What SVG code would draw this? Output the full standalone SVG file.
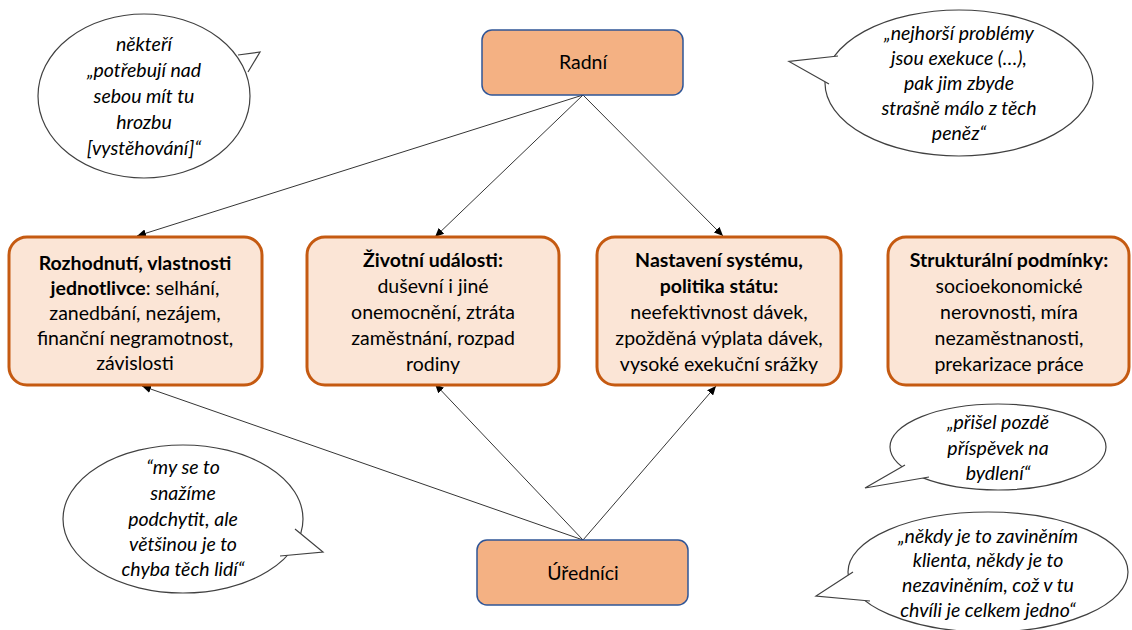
<svg xmlns="http://www.w3.org/2000/svg" width="1132" height="630" viewBox="0 0 1132 630">
<defs>
<marker id="ah" markerUnits="userSpaceOnUse" markerWidth="10" markerHeight="8" refX="9" refY="4" orient="auto">
<path d="M0,0 L9,4 L0,8 Z" fill="#000"/>
</marker>
<style>
.bx{fill:#FBE5D6;stroke:#C55A11;stroke-width:3}
.ac{fill:#F4B183;stroke:#2F5597;stroke-width:1.5}
.t{font-family:Lato,"Liberation Sans",sans-serif;font-size:19.5px;fill:#000;text-anchor:middle}
.b{font-weight:bold}
.q{font-family:Lato,"Liberation Sans",sans-serif;font-size:19.5px;font-style:italic;fill:#000;text-anchor:middle}
.bub{fill:#fff;stroke:#404040;stroke-width:1.2}
.tail{fill:#fff;stroke:#404040;stroke-width:1.2;stroke-linejoin:miter}
.cn{stroke:#000;stroke-width:0.8;fill:none;marker-end:url(#ah)}
</style>
</defs>
<rect width="1132" height="630" fill="#fff"/>

<g id="connectors">
<line class="cn" x1="583" y1="95" x2="137" y2="236"/>
<line class="cn" x1="583" y1="95" x2="435" y2="237"/>
<line class="cn" x1="583" y1="95" x2="723" y2="236"/>
<line class="cn" x1="583" y1="540" x2="142" y2="386"/>
<line class="cn" x1="583" y1="540" x2="435" y2="384"/>
<line class="cn" x1="583" y1="540" x2="716" y2="386"/>
</g>

<g id="radni">
<rect class="ac" x="482" y="30" width="201" height="65" rx="10"/>
<text class="t" x="583" y="69">Radní</text>
</g>

<g id="urednici">
<rect class="ac" x="477" y="540" width="211" height="65" rx="10"/>
<text class="t" x="583" y="580">Úředníci</text>
</g>

<g id="box1">
<rect class="bx" x="9" y="237" width="253" height="148" rx="18"/>
<text class="t" x="135" y="270"><tspan class="b">Rozhodnutí, vlastnosti</tspan></text>
<text class="t" x="135" y="295"><tspan class="b">jednotlivce</tspan>: selhání,</text>
<text class="t" x="135" y="320">zanedbání, nezájem,</text>
<text class="t" x="135" y="345">finanční negramotnost,</text>
<text class="t" x="135" y="370">závislosti</text>
</g>

<g id="box2">
<rect class="bx" x="307" y="237" width="252" height="148" rx="18"/>
<text class="t b" x="433" y="267">Životní události:</text>
<text class="t" x="433" y="293">duševní i jiné</text>
<text class="t" x="433" y="319">onemocnění, ztráta</text>
<text class="t" x="433" y="345">zaměstnání, rozpad</text>
<text class="t" x="433" y="371">rodiny</text>
</g>

<g id="box3">
<rect class="bx" x="597" y="237" width="244" height="148" rx="18"/>
<text class="t b" x="719" y="267">Nastavení systému,</text>
<text class="t b" x="719" y="293">politika státu:</text>
<text class="t" x="719" y="319">neefektivnost dávek,</text>
<text class="t" x="719" y="345">zpožděná výplata dávek,</text>
<text class="t" x="719" y="371">vysoké exekuční srážky</text>
</g>

<g id="box4">
<rect class="bx" x="888" y="237" width="241" height="148" rx="18"/>
<text class="t b" x="1009" y="267">Strukturální podmínky:</text>
<text class="t" x="1009" y="293">socioekonomické</text>
<text class="t" x="1009" y="319">nerovnosti, míra</text>
<text class="t" x="1009" y="345">nezaměstnanosti,</text>
<text class="t" x="1009" y="371">prekarizace práce</text>
</g>

<g id="bubble1">
<ellipse class="bub" cx="144" cy="96" rx="106" ry="82"/>
<path class="tail" d="M238,55 L260,52 L248,72"/>
<text class="q" x="144" y="51">někteří</text>
<text class="q" x="144" y="77">„potřebují nad</text>
<text class="q" x="144" y="103">sebou mít tu</text>
<text class="q" x="144" y="129">hrozbu</text>
<text class="q" x="144" y="155">[vystěhování]“</text>
</g>

<g id="bubble2">
<ellipse class="bub" cx="959" cy="83" rx="134" ry="73"/>
<path class="tail" d="M838,56 L789,61.5 L829,84"/>
<text class="q" x="959" y="40">„nejhorší problémy</text>
<text class="q" x="959" y="65">jsou exekuce (…),</text>
<text class="q" x="959" y="90">pak jim zbyde</text>
<text class="q" x="959" y="115">strašně málo z těch</text>
<text class="q" x="959" y="140">peněz“</text>
</g>

<g id="bubble3">
<ellipse class="bub" cx="183" cy="519" rx="120" ry="74"/>
<path class="tail" d="M295,529 L323,552 L280,556"/>
<text class="q" x="183" y="474">“my se to</text>
<text class="q" x="183" y="500">snažíme</text>
<text class="q" x="183" y="526">podchytit, ale</text>
<text class="q" x="183" y="551">většinou je to</text>
<text class="q" x="183" y="576">chyba těch lidí“</text>
</g>

<g id="bubble4">
<ellipse class="bub" cx="998" cy="447" rx="108" ry="43"/>
<path class="tail" d="M905,465 L865,488 L929,477"/>
<text class="q" x="998" y="429">„přišel pozdě</text>
<text class="q" x="998" y="455">příspěvek na</text>
<text class="q" x="998" y="480">bydlení“</text>
</g>

<g id="bubble5">
<ellipse class="bub" cx="988" cy="572" rx="140" ry="60"/>
<path class="tail" d="M853,572 L816,596 L870,601"/>
<text class="q" x="988" y="543">„někdy je to zaviněním</text>
<text class="q" x="988" y="567">klienta, někdy je to</text>
<text class="q" x="988" y="592">nezaviněním, což v tu</text>
<text class="q" x="988" y="617">chvíli je celkem jedno“</text>
</g>
</svg>
